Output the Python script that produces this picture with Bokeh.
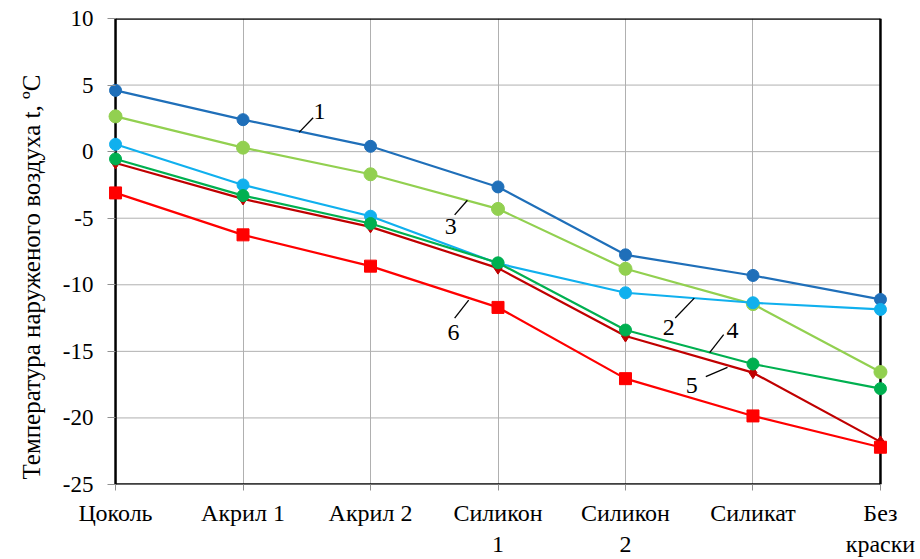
from bokeh.plotting import figure
from bokeh.models import FixedTicker, Range1d, Label, Title
from bokeh.embed import file_html
from bokeh.resources import INLINE

categories = ["Цоколь", "Акрил 1", "Акрил 2", "Силикон\n1", "Силикон\n2", "Силикат", "Без\nкраски"]
s1 = [4.6, 2.4, 0.4, -2.65, -7.75, -9.3, -11.1]
s2 = [0.55, -2.5, -4.85, -8.4, -10.6, -11.35, -11.85]
s3 = [2.65, 0.3, -1.7, -4.3, -8.8, -11.45, -16.55]
s4 = [-0.55, -3.3, -5.4, -8.35, -13.4, -15.95, -17.8]
s5 = [-0.85, -3.55, -5.65, -8.75, -13.85, -16.6, -21.8]
s6 = [-3.1, -6.25, -8.6, -11.7, -17.05, -19.85, -22.2]
y_ticks = [-25, -20, -15, -10, -5, 0, 5, 10]
y_label = "Температура наруженого воздуха  t, ºС"

# annotation labels: (text, label x, label y, leader x0, y0, x1, y1)
annotations = [
    ("1", 1.60, 3.0, 1.44, 1.45, 1.55, 2.55),
    ("3", 2.63, -5.6, 2.66, -4.75, 2.76, -3.65),
    ("6", 2.65, -13.6, 2.66, -12.5, 2.77, -11.15),
    ("2", 4.34, -13.2, 4.39, -12.5, 4.54, -11.0),
    ("4", 4.84, -13.4, 4.66, -15.1, 4.77, -13.75),
    ("5", 4.52, -17.6, 4.63, -16.9, 4.80, -16.2),
]

xs = list(range(len(categories)))
x_lo, x_hi = xs[0], xs[-1]
y_lo, y_hi = y_ticks[0], y_ticks[-1]
pad = 0.063

p = figure(width=920, height=559, output_backend="svg", toolbar_location=None,
           x_range=Range1d(x_lo - pad, x_hi + pad), y_range=Range1d(y_lo, y_hi),
           min_border_left=107, min_border_right=32, min_border_top=18, min_border_bottom=74)
p.background_fill_color = "white"
p.border_fill_color = "white"
p.outline_line_color = None

serif = "Liberation Serif"

p.xaxis.ticker = FixedTicker(ticks=xs)
p.xaxis.major_label_overrides = {i: c for i, c in enumerate(categories)}
p.yaxis.ticker = FixedTicker(ticks=y_ticks)
p.yaxis.major_label_overrides = {t: str(t) for t in y_ticks}
for ax in (p.xaxis[0], p.yaxis[0]):
    ax.major_label_text_font = serif
    ax.major_label_text_color = "black"
    ax.axis_line_color = None
    ax.major_tick_line_color = "#909090"
    ax.minor_tick_line_color = None
p.xaxis.major_label_text_font_size = "24px"
p.yaxis.major_label_text_font_size = "23px"
p.xaxis.major_tick_in = 0
p.xaxis.major_tick_out = 6
p.xaxis.major_label_standoff = 9
p.yaxis.major_tick_in = 8
p.yaxis.major_tick_out = 0
p.yaxis.major_label_standoff = 14

p.xgrid.ticker = FixedTicker(ticks=xs)
p.xgrid.grid_line_color = "#b0b0b0"
p.ygrid.grid_line_color = None

# horizontal grid lines restricted to the category span
p.segment(x0=[x_lo] * len(y_ticks), y0=y_ticks, x1=[x_hi] * len(y_ticks), y1=y_ticks,
          line_color="#b0b0b0", line_width=1)
# frame
p.segment(x0=[x_lo, x_hi, x_lo, x_lo], y0=[y_lo, y_lo, y_lo, y_hi],
          x1=[x_lo, x_hi, x_hi, x_hi], y1=[y_hi, y_hi, y_lo, y_hi],
          line_color="black", line_width=2.5)

series = [
    (s1, "#1f6fb9", "circle", 12),
    (s3, "#92d050", "circle", 13),
    (s2, "#10b0ee", "circle", 12),
    (s5, "#c00000", "diamond", 12),
    (s4, "#00b050", "circle", 12),
    (s6, "#ff0000", "square", 12),
]
for ys, col, mk, sz in series:
    p.line(xs, ys, line_color=col, line_width=2.2)
    p.scatter(xs, ys, marker=mk, size=sz, fill_color=col, line_color=col)

for t, lx, ly, x0, y0, x1, y1 in annotations:
    p.line([x0, x1], [y0, y1], line_color="black", line_width=1.3)
    p.add_layout(Label(x=lx, y=ly, text=t, text_font=serif, text_font_size="24px",
                       text_color="black", text_align="center", text_baseline="middle"))

p.add_layout(Title(text=y_label, align="left", offset=5, standoff=30,
                   text_font=serif, text_font_size="25px", text_font_style="normal",
                   text_color="black"), "left")

open("out.html", "w").write(file_html(p, INLINE))
